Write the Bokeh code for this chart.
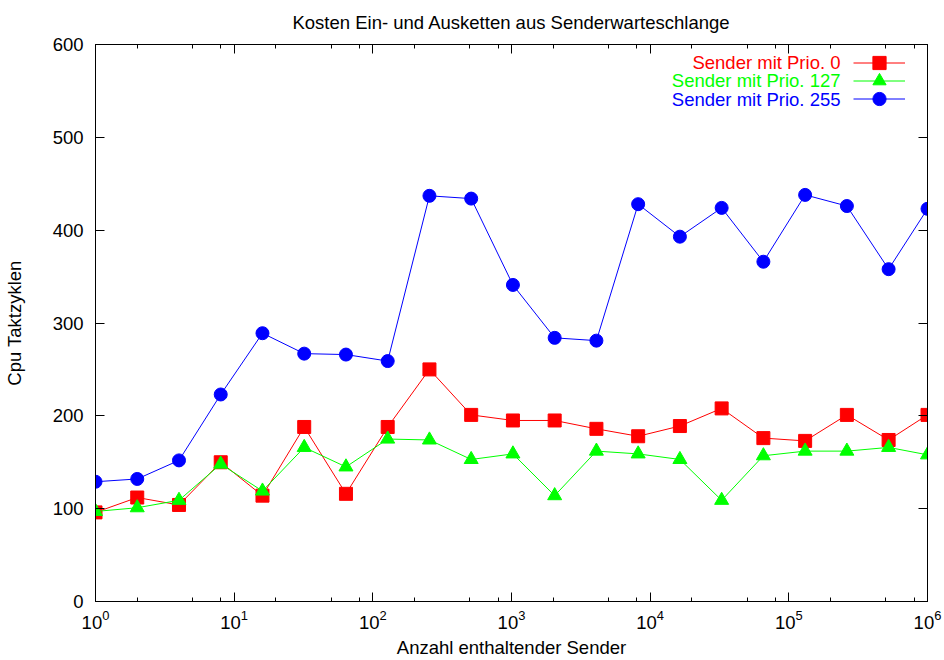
from bokeh.plotting import figure
from bokeh.models import (FixedTicker, LogAxis, LinearAxis, Legend, LegendItem,
                          Label, Range1d)
from bokeh.embed import file_html
from bokeh.resources import INLINE

# ---- data ----
senders = [1, 2, 4, 8, 16, 32, 64, 128, 256, 512, 1024, 2048, 4096, 8192,
           16384, 32768, 65536, 131072, 262144, 524288, 1000000]
prio0 = [96, 112, 104, 150, 114, 188, 116, 188, 250, 201, 195, 195, 186, 178,
         189, 208, 176, 173, 201, 174, 201]
prio127 = [97, 101, 109, 148, 119, 166, 145, 175, 174, 153, 159, 114, 162, 159,
           153, 109, 157, 162, 162, 166, 158]
prio255 = [129, 132, 152, 223, 289, 267, 266, 259, 437, 434, 341, 284, 281, 428,
           393, 424, 366, 438, 426, 358, 423]
series_labels = ["Sender mit Prio. 0", "Sender mit Prio. 127", "Sender mit Prio. 255"]
series_colors = ["#ff0000", "#00ff00", "#0000ff"]
series_markers = ["square", "triangle", "circle"]
x_major = [1, 10, 100, 1000, 10000, 100000, 1000000]
x_minor = [m * 10 ** k for k in range(6) for m in (2, 5, 8)]
y_ticks = [0, 100, 200, 300, 400, 500, 600]
title_text = "Kosten Ein- und Ausketten aus Senderwarteschlange"
x_label_text = "Anzahl enthaltender Sender"
y_label_text = "Cpu Taktzyklen"

FONT = "Liberation Sans"
FS = "18.5px"
FRAME_H = 559

p = figure(width=944, height=660, x_axis_type="log",
           x_range=Range1d(1, 1000000), y_range=Range1d(0, 600),
           output_backend="svg", toolbar_location=None,
           min_border_left=95, min_border_right=17,
           min_border_top=44, min_border_bottom=57,
           title=title_text)
p.background_fill_color = "white"
p.border_fill_color = "white"
p.outline_line_color = "black"
p.outline_line_width = 1
p.xgrid.visible = False
p.ygrid.visible = False

p.title.align = "center"
p.title.vertical_align = "top"
p.title.text_font = FONT
p.title.text_font_size = FS
p.title.text_font_style = "normal"
p.title.text_color = "black"
p.title.standoff = 20

xt = FixedTicker(ticks=x_major, minor_ticks=x_minor)
yt = FixedTicker(ticks=y_ticks, minor_ticks=[])

def style_axis(ax, show_labels):
    ax.axis_line_color = "black"
    ax.major_tick_in = 9
    ax.major_tick_out = 0
    ax.minor_tick_in = 4
    ax.minor_tick_out = 0
    ax.major_tick_line_color = "black"
    ax.minor_tick_line_color = "black"
    ax.major_label_text_font = FONT
    ax.major_label_text_font_size = FS
    ax.major_label_text_color = "black"
    ax.axis_label_text_font = FONT
    ax.axis_label_text_font_size = FS
    ax.axis_label_text_font_style = "normal"
    ax.axis_label_text_color = "black"
    if not show_labels:
        ax.major_label_text_font_size = "1px"
        ax.major_label_text_color = None
        ax.major_label_standoff = 0
        ax.axis_label_standoff = 0

xa = p.xaxis[0]
xa.ticker = xt
style_axis(xa, True)
xa.axis_label = x_label_text
xa.major_label_standoff = 8
xa.axis_label_standoff = 5
xa.axis_label_text_line_height = 1.0

ya = p.yaxis[0]
ya.ticker = yt
style_axis(ya, True)
ya.axis_label = y_label_text
ya.major_label_standoff = 12
ya.axis_label_standoff = 25

top_ax = LogAxis(ticker=xt)
style_axis(top_ax, False)
p.add_layout(top_ax, "above")

right_ax = LinearAxis(ticker=yt)
style_axis(right_ax, False)
p.add_layout(right_ax, "right")

row_centers = [20, 38, 56.5]   # legend rows, px below the frame top
for ys, lab, col, mk, rc in zip([prio0, prio127, prio255], series_labels,
                                series_colors, series_markers, row_centers):
    lr = p.line(senders, ys, line_color=col, line_width=1)
    sr = p.scatter(senders, ys, marker=mk, size=13 if mk != "triangle" else 14,
                   fill_color=col, line_color=col)
    leg = Legend(items=[LegendItem(label=" ", renderers=[lr, sr])],
                 location=(758, FRAME_H - rc - 16.5), orientation="vertical",
                 glyph_width=52, glyph_height=33, label_height=33, label_width=1,
                 label_standoff=0, spacing=0, padding=0, margin=0,
                 background_fill_alpha=0, border_line_alpha=0,
                 label_text_font_size="8px")
    p.add_layout(leg)
    p.add_layout(Label(x=745, y=FRAME_H - rc, x_units="screen", y_units="screen",
                       text=lab, text_align="right", text_baseline="middle",
                       text_font=FONT, text_font_size=FS, text_color=col))

open("out.html", "w").write(file_html(p, INLINE))
